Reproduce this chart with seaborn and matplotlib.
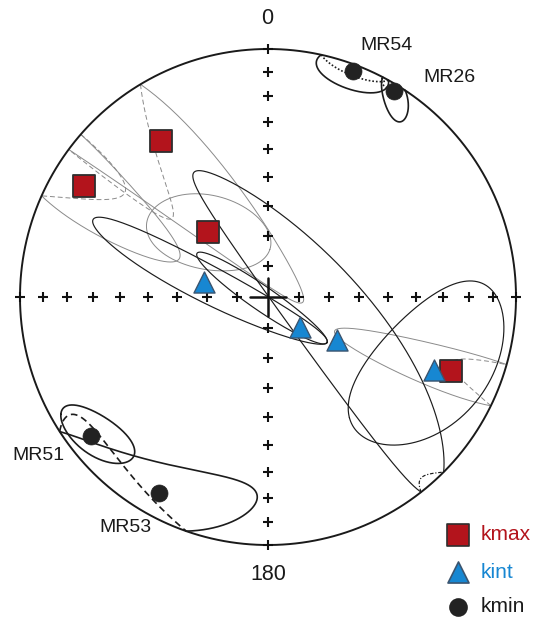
import numpy as np
import pandas as pd
import matplotlib
matplotlib.use("Agg")
import matplotlib.pyplot as plt
import seaborn as sns

# ---- principal susceptibility axes per site (trend, plunge in degrees) ----
sites = ["MR54", "MR26", "MR51", "MR53"]
kmax_trend = [112.0, 301.1, 325.6, 317.3]
kmax_plunge = [21.5, 14.4, 24.7, 60.8]
kint_trend = [283.1, 133.2, 121.9, 113.7]
kint_plunge = [68.4, 75.6, 63.2, 27.8]
kmin_trend = [20.6, 31.4, 231.9, 209.1]
kmin_plunge = [3.0, 3.0, 10.2, 10.6]

# ---- confidence cones: centre, semi-angles (deg) and azimuth of the major
#      semi-axis, measured from the down-plunge direction towards increasing trend
kmax_cone_trend = [112.0, 301.1, 321.0, 317.3]
kmax_cone_plunge = [21.5, 14.4, 24.7, 60.8]
kmax_cone_major = [44.0, 44.0, 74.0, 21.0]
kmax_cone_minor = [6.0, 9.0, 12.4, 12.0]
kmax_cone_psi = [3.0, -6.0, 8.0, 32.0]

kint_cone_trend = [283.1, 258.6, 113.2, 113.7]
kint_cone_plunge = [68.4, 87.9, 63.6, 27.8]
kint_cone_major = [45.0, 26.0, 71.4, 29.5]
kint_cone_minor = [6.0, 4.0, 13.0, 20.0]
kint_cone_psi = [-14.0, -46.0, -28.0, 55.0]

kmin_cone_trend = [20.6, 32.5, 231.0, 212.0]
kmin_cone_plunge = [3.0, 5.0, 12.0, 7.0]
kmin_cone_major = [9.0, 9.0, 12.0, 31.4]
kmin_cone_minor = [8.0, 3.5, 7.5, 13.0]
kmin_cone_psi = [100.0, 25.0, 128.0, -57.6]

grid_plunges = [0, 10, 20, 30, 40, 50, 60, 70, 80]
legend_labels = ["kmax", "kint", "kmin"]


def unit(trend, plunge):
    t, p = np.radians(trend), np.radians(plunge)
    return np.array([np.cos(p) * np.sin(t), np.cos(p) * np.cos(t), np.sin(p)])


def schmidt(v):
    """Lower-hemisphere equal-area projection of unit vectors (E, N, Down)."""
    v = np.atleast_2d(v)
    z = np.abs(v[:, 2])
    k = 1.0 / np.sqrt(1.0 + z)
    return v[:, 0] * k, v[:, 1] * k


def cone_runs(trend, plunge, major, minor, psi, n=900):
    T, P, s = np.radians(trend), np.radians(plunge), np.radians(psi)
    c = unit(trend, plunge)
    e_pl = np.array([-np.sin(P) * np.sin(T), -np.sin(P) * np.cos(T), np.cos(P)])
    e_tr = np.array([np.cos(T), -np.sin(T), 0.0])
    u = np.cos(s) * e_pl + np.sin(s) * e_tr
    w = -np.sin(s) * e_pl + np.cos(s) * e_tr
    t = np.linspace(0, 2 * np.pi, n)
    pts = (c[None, :] + np.tan(np.radians(major)) * np.cos(t)[:, None] * u
           + np.tan(np.radians(minor)) * np.sin(t)[:, None] * w)
    pts /= np.linalg.norm(pts, axis=1)[:, None]

    runs, cur, flag = [], [pts[0]], pts[0, 2] < 0
    for i in range(1, n):
        f = pts[i, 2] < 0
        if f != flag:
            z0, z1 = pts[i - 1, 2], pts[i, 2]
            q = pts[i - 1] + z0 / (z0 - z1) * (pts[i] - pts[i - 1])
            q[2] = 0.0
            q /= np.linalg.norm(q)
            cur.append(q)
            runs.append([flag, cur])
            cur, flag = [q, pts[i]], f
        else:
            cur.append(pts[i])
    runs.append([flag, cur])
    if len(runs) > 1 and runs[0][0] == runs[-1][0]:
        runs[0][1] = runs[-1][1] + runs[0][1]
        runs.pop()
    return [(f, np.array(r)) for f, r in runs]


sns.set_theme(style="white")
plt.rcParams["font.family"] = ["Liberation Sans", "DejaVu Sans"]

W, H, R = 541, 621, 248.0
cx, cy = 268.0, 297.0
fig = plt.figure(figsize=(W / 100, H / 100), dpi=100)
ax = fig.add_axes([0, 0, 1, 1])
ax.set_xlim(-cx / R, (W - cx) / R)
ax.set_ylim(-(H - cy) / R, cy / R)
ax.set_axis_off()

# primitive circle
th = np.linspace(0, 2 * np.pi, 720)
ax.plot(np.cos(th), np.sin(th), color="#1a1a1a", lw=1.4, zorder=3)

# confidence cones
styles = {
    "kmax": dict(color="#8a8a8a", lw=0.7, fold=(0, (5, 3))),
    "kint": dict(color="#1c1c1c", lw=0.85, fold=(0, (3, 1.5, 1, 1.5))),
    "kmin": dict(color="#1c1c1c", lw=1.2, fold=(0, (1, 1.2))),
}
kmin_fold = {"MR54": (0, (1, 1.2)), "MR26": (0, (1, 1.2)),
             "MR51": (0, (1, 1.2)), "MR53": (0, (4, 2.5))}
cones = {
    "kmax": (kmax_cone_trend, kmax_cone_plunge, kmax_cone_major, kmax_cone_minor, kmax_cone_psi),
    "kint": (kint_cone_trend, kint_cone_plunge, kint_cone_major, kint_cone_minor, kint_cone_psi),
    "kmin": (kmin_cone_trend, kmin_cone_plunge, kmin_cone_major, kmin_cone_minor, kmin_cone_psi),
}
for axis_name, (tr, pl, ma, mi, ps) in cones.items():
    st = styles[axis_name]
    for i, site in enumerate(sites):
        for folded, seg in cone_runs(tr[i], pl[i], ma[i], mi[i], ps[i]):
            x, y = schmidt(seg)
            ls = "-"
            if folded:
                ls = kmin_fold[site] if axis_name == "kmin" else st["fold"]
            ax.plot(x, y, color=st["color"], lw=st["lw"], ls=ls, zorder=2,
                    solid_capstyle="round")

# 10-degree ticks along the N-S and E-W diameters
r_ticks = np.array([np.sqrt(2) * np.sin(np.radians(90 - p) / 2) for p in grid_plunges])
tx = np.concatenate([r_ticks, -r_ticks, np.zeros_like(r_ticks), np.zeros_like(r_ticks)])
ty = np.concatenate([np.zeros_like(r_ticks), np.zeros_like(r_ticks), r_ticks, -r_ticks])
ax.plot(tx, ty, ls="none", marker="+", ms=7, mew=1.5, color="#111111", zorder=4)
arm = 18 / R
ax.plot([-arm, arm], [0, 0], color="#111111", lw=1.8, zorder=4)
ax.plot([0, 0], [-arm * 1.05, arm * 1.05], color="#111111", lw=1.8, zorder=4)

# principal axes
def axis_frame(trends, plunges):
    xy = np.array([schmidt(unit(t, p)) for t, p in zip(trends, plunges)])[:, :, 0]
    return pd.DataFrame({"site": sites, "x": xy[:, 0], "y": xy[:, 1]})

df_max = axis_frame(kmax_trend, kmax_plunge)
df_int = axis_frame(kint_trend, kint_plunge)
df_min = axis_frame(kmin_trend, kmin_plunge)

red, blue, dark = "#b3141c", "#1787d2", "#222222"
sns.scatterplot(data=df_max, x="x", y="y", marker="s", s=250, color=red,
                edgecolor="#2e2e2e", linewidth=1.3, ax=ax, zorder=6, legend=False)
sns.scatterplot(data=df_int, x="x", y="y", marker="^", s=230, color=blue,
                edgecolor="#3b5570", linewidth=1.0, ax=ax, zorder=6, legend=False)
sns.scatterplot(data=df_min, x="x", y="y", marker="o", s=150, color=dark,
                edgecolor=dark, linewidth=0.5, ax=ax, zorder=6, legend=False)

# site labels and orientation labels
def px(x, y):
    return (x - cx) / R, (cy - y) / R

lab = dict(fontsize=14, color="#1a1a1a", ha="center", va="center")
ax.text(*px(387, 45), "MR54", **lab)
ax.text(*px(449, 77), "MR26", **lab)
ax.text(*px(38, 455), "MR51", **lab)
ax.text(*px(125, 527), "MR53", **lab)
ax.text(*px(267, 18), "0", fontsize=15.5, color="#1a1a1a", ha="center", va="center")
ax.text(*px(268, 575), "180", fontsize=15.5, color="#1a1a1a", ha="center", va="center")

# legend
leg_y = [535, 572, 607]
leg_marker = ["s", "^", "o"]
leg_fill = [red, blue, dark]
leg_edge = ["#2e2e2e", "#3b5570", dark]
leg_size = [250, 230, 150]
leg_color = [red, blue, "#1a1a1a"]
for yy, lab_txt, mk, fc, ec, sz, tc in zip(leg_y, legend_labels, leg_marker,
                                           leg_fill, leg_edge, leg_size, leg_color):
    mx, my = px(458, yy)
    ax.scatter([mx], [my], marker=mk, s=sz, c=fc, edgecolors=ec, linewidths=1.2, zorder=6)
    ax.text(*px(481, yy), lab_txt, fontsize=15, color=tc, ha="left", va="center")

fig.savefig("out.png", dpi=100)
